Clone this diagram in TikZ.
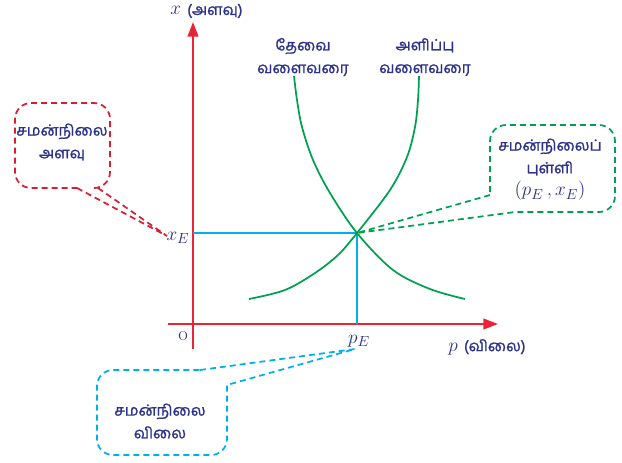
\documentclass[tikz,border=0pt]{standalone}
\usepackage{fontspec}
\newfontfamily\tam[Script=Tamil,FakeBold=1.2]{Hind Madurai}
\usetikzlibrary{arrows.meta}
\definecolor{axisred}{RGB}{235,35,55}
\definecolor{curvegreen}{RGB}{0,160,80}
\definecolor{guideblue}{RGB}{0,175,235}
\definecolor{txt}{RGB}{45,50,140}
\definecolor{callred}{RGB}{215,30,50}
\begin{document}
\begin{tikzpicture}[x=0.75pt,y=-0.75pt,
  axis/.style={axisred,line width=1.6pt,-{Triangle[length=11pt,width=8pt]}},
  curve/.style={curvegreen,line width=1.3pt},
  guide/.style={guideblue,line width=1.2pt},
  lbl/.style={text=txt,font=\tam\fontsize{11.5}{17}\selectfont,align=center,inner sep=0pt},
  mlbl/.style={text=txt,font=\fontsize{15.5}{17}\selectfont,inner sep=0pt},
  call/.style={line width=1.3pt,dash pattern=on 4.5pt off 3pt,rounded corners=12pt}]
\useasboundingbox (0,0) rectangle (622,462);
% axes
\coordinate (O) at (193,324);
\coordinate (ytop) at (193,22);
\coordinate (ybot) at (193,349);
\coordinate (xl) at (168,324);
\coordinate (xr) at (498,324);
\draw[axis] (ybot) -- (ytop);
\draw[axis] (xl) -- (xr);
% equilibrium
\coordinate (E) at (357,233);
\coordinate (Ex) at (193,233);
\coordinate (Ep) at (357,324);
\draw[guide] (Ex) -- (E) -- (Ep);
% curves
\draw[curve] plot[smooth,tension=0.55] coordinates {(294,76) (297,100) (302,127) (313,160) (330,193) (357,233) (393,270) (430,289) (465,299)};
\draw[curve] plot[smooth,tension=0.55] coordinates {(249,299) (285,290) (315,273) (338,255) (357,233) (390,190) (407,157) (415,127) (418,100) (419,76)};
% labels
\node[mlbl,anchor=west] (xlab) at (170,11) {$x$ {\tam\fontsize{11.5}{13}\selectfont(அளவு)}};
\node[mlbl] (olab) at (183,336) {o};
\node[mlbl] (pE) at (359,341) {$p_E$};
\node[mlbl] (xE) at (178,238) {$x_E$};
\node[mlbl,anchor=west] (plab) at (448,347) {$p$ {\tam\fontsize{11.5}{13}\selectfont(விலை)}};
\node[lbl] (dem) at (303,57) {தேவை\\வளைவரை};
\node[lbl] (sup) at (425,57) {அளிப்பு\\வளைவரை};
% red callout
\node[lbl] (rtext) at (62,142) {சமன்நிலை\\அளவு};
\coordinate (rtip) at (167,236);
\draw[call,callred] (77,188) [sharp corners] -- (rtip) -- (98,188) [rounded corners=12pt] -- (110,188) -- (110,103) -- (15,103) -- (15,188) -- (77,188);
% green callout
\node[lbl] (gtext) at (550,157) {சமன்நிலைப்\\புள்ளி};
\node[mlbl] (gmath) at (550,191) {$(p_E\,,x_E)$};
\coordinate (gtip) at (357,233);
\draw[call,curvegreen] (490,195) [sharp corners] -- (gtip) -- (515,212) [rounded corners=12pt] -- (615,212) -- (615,125) -- (490,125) -- (490,195);
% blue callout
\node[lbl] (btext) at (160,421) {சமன்நிலை\\விலை};
\coordinate (btip) at (355,349);
\draw[call,guideblue] (200,370) [sharp corners] -- (btip) -- (227,385) [rounded corners=12pt] -- (227,455) -- (97,455) -- (97,370) -- (200,370);
\end{tikzpicture}
\end{document}
